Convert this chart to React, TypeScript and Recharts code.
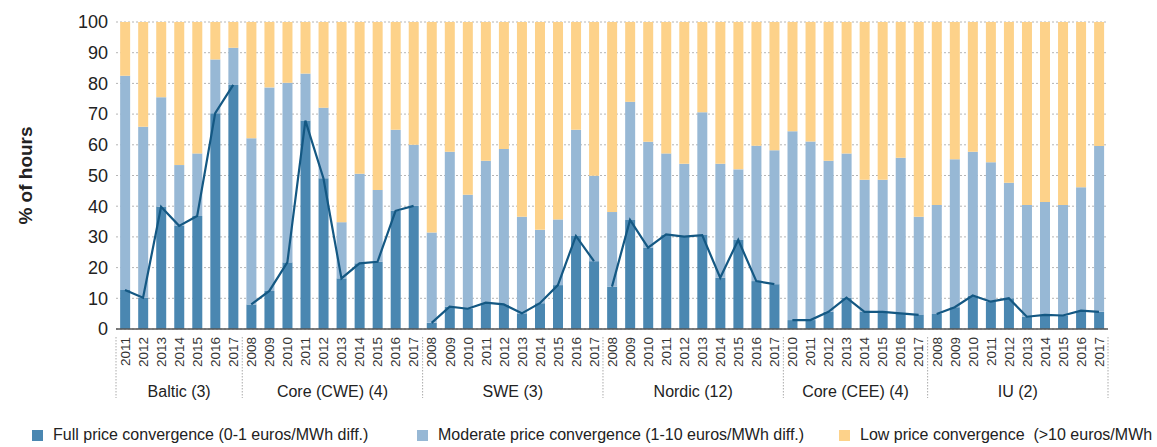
import React from "react";
import {
  ComposedChart,
  Bar,
  Line,
  XAxis,
  YAxis,
  CartesianGrid,
} from "recharts";

const GROUP_NAMES = [
  "Baltic (3)",
  "Core (CWE) (4)",
  "SWE (3)",
  "Nordic (12)",
  "Core (CEE) (4)",
  "IU (2)",
];

const GROUP_YEARS = [
  ["2011", "2012", "2013", "2014", "2015", "2016", "2017"],
  ["2008", "2009", "2010", "2011", "2012", "2013", "2014", "2015", "2016", "2017"],
  ["2008", "2009", "2010", "2011", "2012", "2013", "2014", "2015", "2016", "2017"],
  ["2008", "2009", "2010", "2011", "2012", "2013", "2014", "2015", "2016", "2017"],
  ["2010", "2011", "2012", "2013", "2014", "2015", "2016", "2017"],
  ["2008", "2009", "2010", "2011", "2012", "2013", "2014", "2015", "2016", "2017"],
];

// full price convergence, % of hours
const FULL = [
  12.7, 10.2, 39.8, 33.6, 36.8, 70.3, 79.5,
  8.0, 12.4, 21.7, 67.9, 49.1, 16.5, 21.4, 21.9, 38.5, 40.1,
  2.0, 7.3, 6.6, 8.6, 8.0, 5.1, 8.4, 14.3, 30.3, 22.1,
  13.8, 35.5, 26.5, 30.8, 30.1, 30.6, 16.7, 29.0, 15.6, 14.6,
  2.9, 2.9, 5.6, 10.2, 5.6, 5.6, 5.1, 4.6,
  4.9, 7.1, 10.9, 8.9, 10.0, 4.0, 4.6, 4.4, 6.0, 5.6,
];

// moderate price convergence
const MODERATE = [
  69.8, 55.7, 35.7, 19.8, 20.4, 17.5, 12.1,
  54.1, 66.3, 58.5, 15.3, 23.0, 18.3, 29.2, 23.4, 26.4, 19.9,
  29.4, 50.4, 37.1, 46.2, 50.6, 31.5, 23.9, 21.4, 34.6, 27.8,
  24.3, 38.5, 34.5, 26.4, 23.7, 40.0, 37.1, 23.0, 44.1, 43.6,
  61.5, 58.2, 49.2, 47.0, 43.0, 43.0, 50.7, 32.0,
  35.5, 48.2, 46.8, 45.4, 37.6, 36.4, 36.8, 36.0, 40.2, 54.0,
];

// low price convergence
const LOW = [
  17.5, 34.1, 24.5, 46.6, 42.8, 12.2, 8.4,
  37.9, 21.3, 19.8, 16.8, 27.9, 65.2, 49.4, 54.7, 35.1, 40.0,
  68.6, 42.3, 56.3, 45.2, 41.4, 63.4, 67.7, 64.3, 35.1, 50.1,
  61.9, 26.0, 39.0, 42.8, 46.2, 29.4, 46.2, 48.0, 40.3, 41.8,
  35.6, 38.9, 45.2, 42.8, 51.4, 51.4, 44.2, 63.4,
  59.6, 44.7, 42.3, 45.7, 52.4, 59.6, 58.6, 59.6, 53.8, 40.4,
];

const Y_TICKS = [0, 10, 20, 30, 40, 50, 60, 70, 80, 90, 100];

const LEGEND_ITEMS = [
  { label: "Full price convergence (0-1 euros/MWh diff.)", color: "#4a87b1", left: 32 },
  { label: "Moderate price convergence (1-10 euros/MWh diff.)", color: "#97b8d5", left: 417 },
  { label: "Low price convergence  (>10 euros/MWh", color: "#fdd28a", left: 839 },
];

const W = 1157;
const H = 447;
const MARGIN = { top: 22, right: 49, left: 0, bottom: 0 };
const Y_W = 116;

const rows = [];
GROUP_YEARS.forEach((years, g) => {
  years.forEach((year, j) => {
    const i = rows.length;
    rows.push({
      key: `${g}-${year}`,
      year,
      group: g,
      first: j === 0,
      size: years.length,
      full: FULL[i],
      moderate: MODERATE[i],
      low: LOW[i],
      [`line${g}`]: FULL[i],
    });
  });
});

const BAND = (W - MARGIN.left - MARGIN.right - Y_W) / rows.length;
const FONT = "'Liberation Sans', Arial, sans-serif";

function YearTick({ x, y, payload, index }) {
  const idx = payload?.index ?? index;
  const row = rows[idx];
  if (!row) return null;
  const left = x - BAND / 2;
  return (
    <g>
      <text
        x={x}
        y={y}
        transform={`rotate(-90, ${x}, ${y})`}
        textAnchor="end"
        dy="0.36em"
        fontSize={13.5}
        fontFamily={FONT}
        fill="#333"
      >
        {row.year}
      </text>
      {row.first && (
        <>
          <line
            x1={left}
            x2={left}
            y1={y}
            y2={y + 61}
            stroke="#aaa"
            strokeDasharray="1.5 1.5"
          />
          <text
            x={left + (row.size * BAND) / 2}
            y={y + 60}
            textAnchor="middle"
            fontSize={16}
            fontFamily={FONT}
            fill="#222"
          >
            {GROUP_NAMES[row.group]}
          </text>
        </>
      )}
      {idx === rows.length - 1 && (
        <line
          x1={x + BAND / 2}
          x2={x + BAND / 2}
          y1={y}
          y2={y + 61}
          stroke="#aaa"
          strokeDasharray="1.5 1.5"
        />
      )}
    </g>
  );
}

export default function App() {
  return (
    <div
      style={{
        position: "fixed",
        top: 0,
        left: 0,
        width: W,
        height: H,
        overflow: "hidden",
        background: "#fff",
        fontFamily: FONT,
      }}
    >
      <ComposedChart
        width={W}
        height={H}
        data={rows}
        margin={MARGIN}
        barCategoryGap="23%"
      >
        <CartesianGrid
          vertical={false}
          stroke="#b5b5b5"
          strokeDasharray="2 2"
        />
        <XAxis
          dataKey="key"
          interval={0}
          height={H - 329}
          tick={<YearTick />}
          tickLine={false}
          tickSize={6}
          tickMargin={2}
          axisLine={{ stroke: "#555", strokeWidth: 1.5 }}
        />
        <YAxis
          width={Y_W}
          domain={[0, 100]}
          ticks={Y_TICKS}
          interval={0}
          tickLine={false}
          axisLine={false}
          tick={{ fill: "#222", fontSize: 18, fontFamily: FONT }}
          label={{
            value: "% of hours",
            angle: -90,
            position: "insideLeft",
            offset: 25,
            style: {
              fontSize: 19,
              fontWeight: "bold",
              fill: "#222",
              fontFamily: FONT,
              textAnchor: "middle",
            },
          }}
        />
        <Bar dataKey="full" stackId="a" fill="#4a87b1" isAnimationActive={false} />
        <Bar dataKey="moderate" stackId="a" fill="#97b8d5" isAnimationActive={false} />
        <Bar dataKey="low" stackId="a" fill="#fdd28a" isAnimationActive={false} />
        {GROUP_NAMES.map((_, g) => (
          <Line
            key={g}
            dataKey={`line${g}`}
            type="linear"
            stroke="#145883"
            strokeWidth={2.2}
            dot={false}
            activeDot={false}
            connectNulls={false}
            isAnimationActive={false}
          />
        ))}
      </ComposedChart>
      {LEGEND_ITEMS.map((item) => (
        <div
          key={item.label}
          style={{
            position: "absolute",
            top: 426,
            left: item.left,
            display: "flex",
            alignItems: "center",
            whiteSpace: "pre",
            fontSize: 16,
            color: "#222",
            lineHeight: "18px",
          }}
        >
          <span
            style={{
              display: "inline-block",
              width: 11,
              height: 11,
              background: item.color,
              marginRight: 10,
            }}
          />
          {item.label}
        </div>
      ))}
    </div>
  );
}
